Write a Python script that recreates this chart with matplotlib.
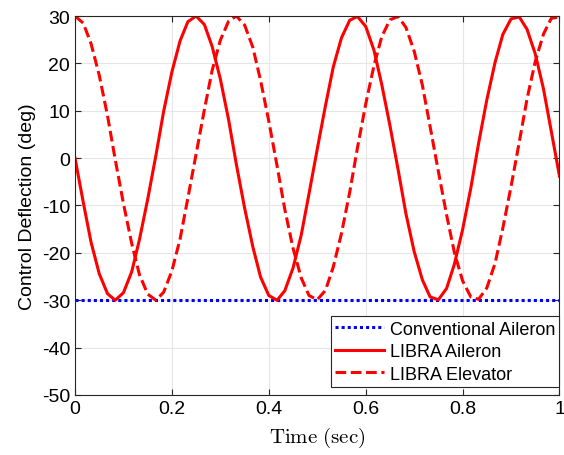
import matplotlib
matplotlib.use('Agg')
import matplotlib.pyplot as plt

plt.rcParams['font.family'] = ['Liberation Sans', 'DejaVu Sans']
plt.rcParams['mathtext.fontset'] = 'cm'
plt.rcParams['axes.unicode_minus'] = False

# sample times (sec)
time = [0.000, 0.017, 0.033, 0.050, 0.067, 0.083, 0.100, 0.117, 0.133, 0.150,
        0.167, 0.183, 0.200, 0.217, 0.233, 0.250, 0.267, 0.283, 0.300, 0.317,
        0.333, 0.350, 0.367, 0.383, 0.400, 0.417, 0.433, 0.450, 0.467, 0.483,
        0.500, 0.517, 0.533, 0.550, 0.567, 0.583, 0.600, 0.617, 0.633, 0.650,
        0.667, 0.683, 0.700, 0.717, 0.733, 0.750, 0.767, 0.783, 0.800, 0.817,
        0.833, 0.850, 0.867, 0.883, 0.900, 0.917, 0.933, 0.950, 0.967, 0.983,
        1.000]

# LIBRA aileron deflection (deg)
libra_aileron = [0.0, -9.3, -17.7, -24.4, -28.6, -30.0, -28.4, -24.0, -17.2, -8.7,
                 0.6, 9.9, 18.2, 24.8, 28.8, 30.0, 28.2, 23.6, 16.7, 8.1,
                 -1.3, -10.5, -18.7, -25.1, -29.0, -30.0, -28.0, -23.2, -16.2, -7.5,
                 1.9, 11.1, 19.2, 25.4, 29.1, 29.9, 27.8, 22.8, 15.6, 6.9,
                 -2.5, -11.7, -19.7, -25.7, -29.3, -29.9, -27.5, -22.4, -15.1, -6.3,
                 3.1, 12.3, 20.2, 26.1, 29.4, 29.8, 27.2, 22.0, 14.6, 5.7,
                 -3.8]

# LIBRA elevator deflection (deg)
libra_elevator = [30.0, 28.5, 24.2, 17.5, 9.0, -0.3, -9.6, -18.0, -24.6, -28.7,
                  -30.0, -28.3, -23.8, -17.0, -8.4, 0.9, 10.2, 18.5, 24.9, 28.9,
                  30.0, 28.1, 23.4, 16.4, 7.8, -1.6, -10.8, -19.0, -25.3, -29.0,
                  -29.9, -27.9, -23.0, -15.9, -7.2, 2.2, 11.4, 19.5, 25.6, 29.2,
                  29.9, 27.6, 22.6, 15.4, 6.6, -2.8, -12.0, -19.9, -25.9, -29.3,
                  -29.8, -27.4, -22.2, -14.8, -6.0, 3.4, 12.5, 20.4, 26.2, 29.5,
                  29.8]

# conventional aileron (deg)
conv_time = [0.0, 1.0]
conv_aileron = [-30.0, -30.0]

fig = plt.figure(figsize=(5.64, 4.56), dpi=100)
ax = fig.add_axes([0.133, 0.1316, 0.859, 0.8311])

ax.plot(conv_time, conv_aileron, color='blue', linestyle=(0, (1, 1)), linewidth=2.2,
        label='Conventional Aileron')
ax.plot(time, libra_aileron, color='red', linestyle='-', linewidth=2.2,
        label='LIBRA Aileron')
ax.plot(time, libra_elevator, color='red', linestyle=(0, (3.5, 1.5)), linewidth=2.2,
        label='LIBRA Elevator')

ax.set_xlim(0, 1)
ax.set_ylim(-50, 30)
ax.set_xticks([0, 0.2, 0.4, 0.6, 0.8, 1])
ax.set_xticklabels(['0', '0.2', '0.4', '0.6', '0.8', '1'])
ax.set_yticks(range(-50, 31, 10))
ax.grid(True, color='#e6e6e6', linewidth=0.8)
ax.set_axisbelow(True)
ax.tick_params(direction='in', labelsize=14, length=4, color='#262626', top=True, right=True)
for s in ax.spines.values():
    s.set_color('#262626')
    s.set_linewidth(0.8)

ax.set_xlabel(r'$\mathrm{Time\ (sec)}$', fontsize=15, labelpad=6)
ax.set_ylabel('Control Deflection (deg)', fontsize=14, labelpad=4)

leg = ax.legend(loc='lower right', bbox_to_anchor=(1.0, 0.021), fontsize=13,
                handlelength=2.7, handletextpad=0.3, borderpad=0.25, labelspacing=0.3,
                borderaxespad=0.0, fancybox=False, framealpha=1, edgecolor='#262626')
leg.get_frame().set_linewidth(0.8)

fig.savefig('out.png', dpi=100)
